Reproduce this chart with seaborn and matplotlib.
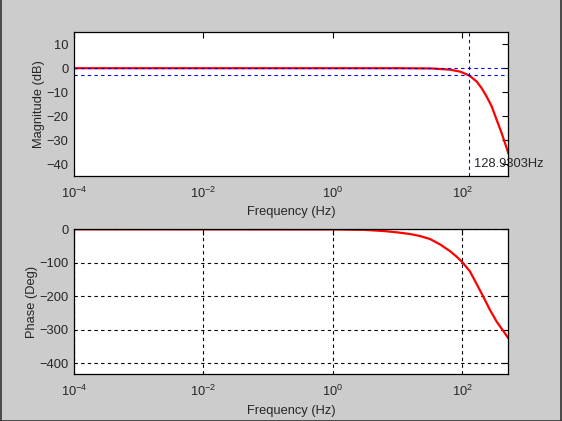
import matplotlib
matplotlib.use("Agg")
import matplotlib.pyplot as plt
from matplotlib.lines import Line2D
import seaborn as sns

# values
cutoff_hz = 128.9303
freq_mag = [1e-4, 10, 34, 65, 93, 129, 169, 202, 241, 288, 344, 411, 501, 519]
mag_db = [0, 0, -0.1, -0.6, -1.4, -3.0, -5.6, -8.4, -11.9, -16.0, -21.6, -27.2, -34.1, -35.5]

freq_phase = [1e-4, 1, 3, 6.1, 9.8, 15.7, 22.4, 32, 45.7, 65, 83, 102, 133,
              169, 213, 271, 344, 436, 519]
phase_deg = [0, -0.5, -1.5, -5, -9, -14, -20, -29, -45, -65, -82, -99, -126,
             -164, -201, -241, -276, -304, -325]

xticks = [1e-4, 1e-2, 1e0, 1e2]
mag_ticks = [-40, -30, -20, -10, 0, 10]
phase_ticks = [-400, -300, -200, -100, 0]

sns.set_style("white")
plt.rcParams['font.family'] = ['Liberation Sans', 'DejaVu Sans']
plt.rcParams['font.size'] = 9.3
plt.rcParams['mathtext.fontset'] = 'custom'
plt.rcParams['mathtext.rm'] = 'Liberation Sans'
plt.rcParams['mathtext.default'] = 'regular'

BG = '#cccccc'
fig = plt.figure(figsize=(5.62, 4.21), dpi=100, facecolor=BG)
ax1 = fig.add_axes([0.1317, 0.5819, 0.7727, 0.3414])
ax2 = fig.add_axes([0.1317, 0.1109, 0.7727, 0.3444])

# magnitude
sns.lineplot(x=freq_mag, y=mag_db, ax=ax1, color='red', linewidth=1.6,
             sort=False, estimator=None)
dash = (0, (3, 3))
ax1.axhline(0, color='blue', linestyle=dash, linewidth=0.8)
ax1.axhline(-3, color='blue', linestyle=dash, linewidth=0.8)
ax1.axvline(cutoff_hz, color='blue', linestyle=dash, linewidth=0.8)
ax1.annotate(f'{cutoff_hz:.4f}Hz', xy=(cutoff_hz, -40), xytext=(3.5, 0),
             textcoords='offset points', va='center', ha='left', fontsize=9.3)
ax1.set_ylim(-45, 15)
ax1.set_yticks(mag_ticks)
ax1.set_ylabel('Magnitude (dB)', labelpad=1)

# phase
sns.lineplot(x=freq_phase, y=phase_deg, ax=ax2, color='red', linewidth=1.6,
             sort=False, estimator=None)
ax2.set_ylim(-433, 0)
ax2.set_yticks(phase_ticks)
ax2.set_ylabel('Phase (Deg)', labelpad=1)
ax2.grid(True, which='major', color='black', linestyle=dash, linewidth=0.8)

for ax in (ax1, ax2):
    ax.set_xscale('log')
    ax.set_xlim(1e-4, 519)
    ax.set_xticks(xticks)
    ax.minorticks_off()
    ax.set_xlabel('Frequency (Hz)', labelpad=4)
    ax.set_facecolor('white')
    ax.tick_params(direction='in', length=4, width=0.8, color='black',
                   top=True, right=True, labelsize=9.3)
    ax.tick_params(axis='x', pad=7)
    ax.tick_params(axis='y', pad=4)
    for sp in ax.spines.values():
        sp.set_visible(True)
        sp.set_color('black')
        sp.set_linewidth(0.9)

# window border like the original screenshot
for xs, ys in [([0.001, 0.001], [0, 1]), ([0.999, 0.999], [0, 1]), ([0, 1], [0.001, 0.001])]:
    fig.add_artist(Line2D(xs, ys, color='#333333', linewidth=1.2,
                          transform=fig.transFigure))

fig.savefig('out.png', dpi=100, facecolor=BG)
